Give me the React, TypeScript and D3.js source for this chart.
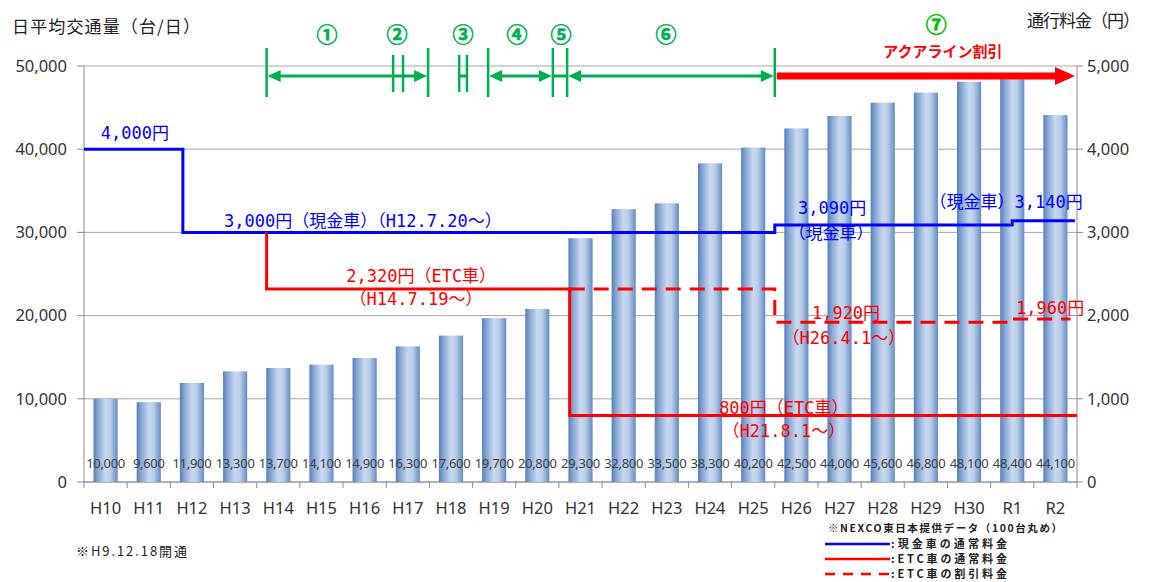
import React from 'react';
import * as d3 from 'd3';

const categories = ['H10','H11','H12','H13','H14','H15','H16','H17','H18','H19','H20','H21','H22','H23','H24','H25','H26','H27','H28','H29','H30','R1','R2'];
const traffic = [10000,9600,11900,13300,13700,14100,14900,16300,17600,19700,20800,29300,32800,33500,38300,40200,42500,44000,45600,46800,48100,48400,44100];
const trafficTicks = [0,10000,20000,30000,40000,50000];
const fareTicks = [0,1000,2000,3000,4000,5000];

// fare step series: time in fiscal-year units from start of H10, fare in yen
const cashFareT = [0, 2.29, 16, 21.5, 22.95];
const cashFareV = [4000, 3000, 3090, 3140, 3140];
const etcFareT = [4.23, 4.23, 11.25, 23];
const etcFareV = [3000, 2320, 800, 800];
const etcDiscT = [11.25, 16, 21.5, 22.85];
const etcDiscV = [2320, 1920, 1960, 1960];

const fareNotes = [
  { text: '4,000円', t: 1.18, v: 4000, dy: -10, s: 'cash' },
  { text: '3,000円（現金車）（H12.7.20～）', t: 6.46, v: 3000, dy: -5, s: 'cash' },
  { text: '2,320円（ETC車）', t: 7.81, v: 2320, dy: -7, s: 'etc' },
  { text: '（H14.7.19～）', t: 7.69, v: 2320, dy: 16, s: 'etc' },
  { text: '3,090円', t: 17.33, v: 3090, dy: -11, s: 'cash' },
  { text: '（現金車）', t: 17.3, v: 3090, dy: 14, s: 'cash' },
  { text: '（現金車）3,140円', t: 21.36, v: 3140, dy: -13, s: 'cash' },
  { text: '1,920円', t: 17.65, v: 1920, dy: -3, s: 'etc' },
  { text: '（H26.4.1～）', t: 17.6, v: 1920, dy: 22, s: 'etc' },
  { text: '1,960円', t: 22.38, v: 1960, dy: -5, s: 'etc' },
  { text: '800円（ETC車）', t: 16.21, v: 800, dy: -1, s: 'etc' },
  { text: '（H21.8.1～）', t: 16.21, v: 800, dy: 22, s: 'etc' },
];

// period markers along the top
const periodLabels = ['①','②','③','④','⑤','⑥','⑦'];
const periodLabelT = [5.63, 7.25, 8.78, 10.03, 11.05, 13.48, 19.74];
const tallBarsT = [4.23, 7.97, 9.36, 10.86, 11.19, 16.0];
const shortBarsT = [7.16, 7.39, 8.69, 8.87];
const greenSegments = [
  { from: 4.23, to: 7.97, heads: true },
  { from: 8.69, to: 8.87, heads: false },
  { from: 9.36, to: 10.86, heads: true },
  { from: 10.86, to: 11.19, heads: false },
  { from: 11.19, to: 16.0, heads: true },
];
const aqualineFrom = 16.0;
const aqualineTo = 23.0;

const legendItems = [
  { label: ':現金車の通常料金', s: 'cash', dash: false },
  { label: ':ETC車の通常料金', s: 'etc', dash: false },
  { label: ':ETC車の割引料金', s: 'etc', dash: true },
];

const BLUE = '#0000ff';
const RED = '#ff0000';
const GREEN = '#00b050';
const monoFont = '"DejaVu Sans Mono", "Noto Sans CJK JP", monospace';
const cjkFont = '"Noto Sans CJK JP", sans-serif';
const axisFont = '"Noto Sans", "Noto Sans CJK JP", sans-serif';

export default function App() {
  const W = 1153, H = 582;
  const left = 84, right = 1077, top = 66, bottom = 482;
  const xb = d3.scaleBand().domain(categories).range([left, right]).paddingInner(0.44).paddingOuter(0.22);
  const xt = d3.scaleLinear().domain([0, categories.length]).range([left, right]);
  const yL = d3.scaleLinear().domain([0, 50000]).range([bottom, top]);
  const yR = d3.scaleLinear().domain([0, 5000]).range([bottom, top]);
  const fmt = d3.format(',');

  const stepLine = d3.line<[number, number]>().x(d => xt(d[0])).y(d => yR(d[1])).curve(d3.curveStepAfter);
  const cashPath = stepLine(cashFareT.map((t, i) => [t, cashFareV[i]] as [number, number]));
  const etcPath = stepLine(etcFareT.map((t, i) => [t, etcFareV[i]] as [number, number]));
  const discPath = stepLine(etcDiscT.map((t, i) => [t, etcDiscV[i]] as [number, number]));

  const arrowY = 76;
  const headL = (x: number, len: number, hh: number, y: number) => `M${x},${y} L${x + len},${y - hh} L${x + len},${y + hh} Z`;
  const headR = (x: number, len: number, hh: number, y: number) => `M${x},${y} L${x - len},${y - hh} L${x - len},${y + hh} Z`;

  return (
    <svg width={W} height={H} style={{ position: 'absolute', left: 0, top: 0, background: '#fff' }}>
      <defs>
        <linearGradient id="barGrad" x1="0" x2="1" y1="0" y2="0">
          <stop offset="0%" stopColor="#5481be" />
          <stop offset="20%" stopColor="#8aa8d5" />
          <stop offset="50%" stopColor="#c9d8ef" />
          <stop offset="70%" stopColor="#b9cde9" />
          <stop offset="100%" stopColor="#628cc4" />
        </linearGradient>
      </defs>
      <rect x={0} y={0} width={W} height={H} fill="#fff" />

      {/* gridlines */}
      {trafficTicks.map(t => (
        <line key={'g' + t} x1={left} x2={right} y1={yL(t)} y2={yL(t)} stroke="#a6a6a6" strokeWidth={1} />
      ))}
      {/* axes */}
      <line x1={left} x2={left} y1={top} y2={bottom} stroke="#8c8c8c" />
      <line x1={right} x2={right} y1={top} y2={bottom} stroke="#8c8c8c" />
      <line x1={left} x2={right} y1={bottom} y2={bottom} stroke="#8c8c8c" />
      {trafficTicks.map(t => (
        <line key={'lt' + t} x1={left - 7} x2={left} y1={yL(t)} y2={yL(t)} stroke="#8c8c8c" />
      ))}
      {fareTicks.map(t => (
        <line key={'rt' + t} x1={right} x2={right + 6} y1={yR(t)} y2={yR(t)} stroke="#8c8c8c" />
      ))}
      {d3.range(categories.length + 1).map(i => (
        <line key={'xt' + i} x1={xt(i)} x2={xt(i)} y1={bottom} y2={bottom + 6} stroke="#8c8c8c" />
      ))}

      {/* tick labels */}
      {trafficTicks.map(t => (
        <text key={'ll' + t} x={67} y={yL(t)} dy="0.35em" textAnchor="end" fontFamily={axisFont} fontSize={16.5} fill="#333">{fmt(t)}</text>
      ))}
      {fareTicks.map(t => (
        <text key={'rl' + t} x={1087} y={yR(t)} dy="0.35em" textAnchor="start" fontFamily={axisFont} fontSize={16.5} fill="#333">{fmt(t)}</text>
      ))}
      {categories.map(c => (
        <text key={'xl' + c} x={(xb(c) as number) + xb.bandwidth() / 2} y={514} textAnchor="middle" fontFamily={axisFont} fontSize={16.5} fill="#333">{c}</text>
      ))}

      {/* axis titles */}
      <text x={12} y={33} fontFamily={cjkFont} fontSize={17} fill="#222" textLength={188} lengthAdjust="spacing">日平均交通量（台/日）</text>
      <text x={1027} y={27} fontFamily={cjkFont} fontSize={17} fill="#222" textLength={113} lengthAdjust="spacing">通行料金（円）</text>

      {/* bars */}
      {categories.map((c, i) => (
        <rect key={'b' + c} x={xb(c)} y={yL(traffic[i])} width={xb.bandwidth()} height={bottom - yL(traffic[i])} fill="url(#barGrad)" />
      ))}
      {categories.map((c, i) => (
        <text key={'bv' + c} x={(xb(c) as number) + xb.bandwidth() / 2} y={468} textAnchor="middle" fontFamily={axisFont} fontSize={13} letterSpacing={-0.3} fill="#404040">{fmt(traffic[i])}</text>
      ))}

      {/* fare lines */}
      <path d={cashPath || ''} fill="none" stroke={BLUE} strokeWidth={3} />
      <path d={etcPath || ''} fill="none" stroke={RED} strokeWidth={3} />
      <path d={discPath || ''} fill="none" stroke={RED} strokeWidth={3} strokeDasharray="15,9" />

      {/* fare annotations */}
      {fareNotes.map((n, i) => (
        <text key={'n' + i} x={xt(n.t)} y={yR(n.v) + n.dy} textAnchor="middle" fontFamily={monoFont} fontSize={17} fill={n.s === 'cash' ? BLUE : RED}>{n.text}</text>
      ))}

      {/* period markers */}
      {tallBarsT.map((t, i) => (
        <line key={'tb' + i} x1={xt(t)} x2={xt(t)} y1={48} y2={97} stroke={GREEN} strokeWidth={2.5} />
      ))}
      {shortBarsT.map((t, i) => (
        <line key={'sb' + i} x1={xt(t)} x2={xt(t)} y1={55} y2={92} stroke={GREEN} strokeWidth={2.5} />
      ))}
      {greenSegments.map((s, i) => (
        <g key={'gs' + i}>
          <line x1={xt(s.from) + (s.heads ? 8 : 0)} x2={xt(s.to) - (s.heads ? 8 : 0)} y1={arrowY} y2={arrowY} stroke={GREEN} strokeWidth={3} />
          {s.heads && <path d={headL(xt(s.from) + 1, 13, 6, arrowY)} fill={GREEN} />}
          {s.heads && <path d={headR(xt(s.to) - 1, 13, 6, arrowY)} fill={GREEN} />}
        </g>
      ))}
      <line x1={xt(aqualineFrom) + 2} x2={xt(aqualineTo) - 20} y1={arrowY} y2={arrowY} stroke={RED} strokeWidth={7} />
      <path d={headR(xt(aqualineTo) - 2, 20, 9, arrowY)} fill={RED} />
      <text x={943} y={57} textAnchor="middle" fontFamily={cjkFont} fontWeight="bold" fontSize={15} fill={RED}>アクアライン割引</text>
      {periodLabels.map((l, i) => (
        <text key={'pl' + i} x={xt(periodLabelT[i])} y={i === 6 ? 32 : 42} textAnchor="middle" fontFamily={cjkFont} fontWeight="bold" fontSize={21} fill={i === 6 ? '#00c000' : GREEN} stroke={i === 6 ? '#00c000' : GREEN} strokeWidth={0.6}>{l}</text>
      ))}

      {/* notes & legend */}
      <text x={76} y={556} fontFamily={cjkFont} fontSize={13} fill="#222" textLength={111} lengthAdjust="spacing">※H9.12.18開通</text>
      <text x={828} y={532} fontFamily={cjkFont} fontSize={10.5} fontWeight="bold" fill="#222" textLength={234} lengthAdjust="spacing">※NEXCO東日本提供データ（100台丸め）</text>
      {legendItems.map((it, i) => {
        const y = 544 + i * 15;
        return (
          <g key={'lg' + i}>
            <line x1={825} x2={890} y1={y} y2={y} stroke={it.s === 'cash' ? BLUE : RED} strokeWidth={2.5} strokeDasharray={it.dash ? '10,8' : undefined} />
            <text x={891} y={y + 4} fontFamily={cjkFont} fontSize={11} fontWeight="bold" fill="#222" textLength={116} lengthAdjust="spacing">{it.label}</text>
          </g>
        );
      })}
    </svg>
  );
}
